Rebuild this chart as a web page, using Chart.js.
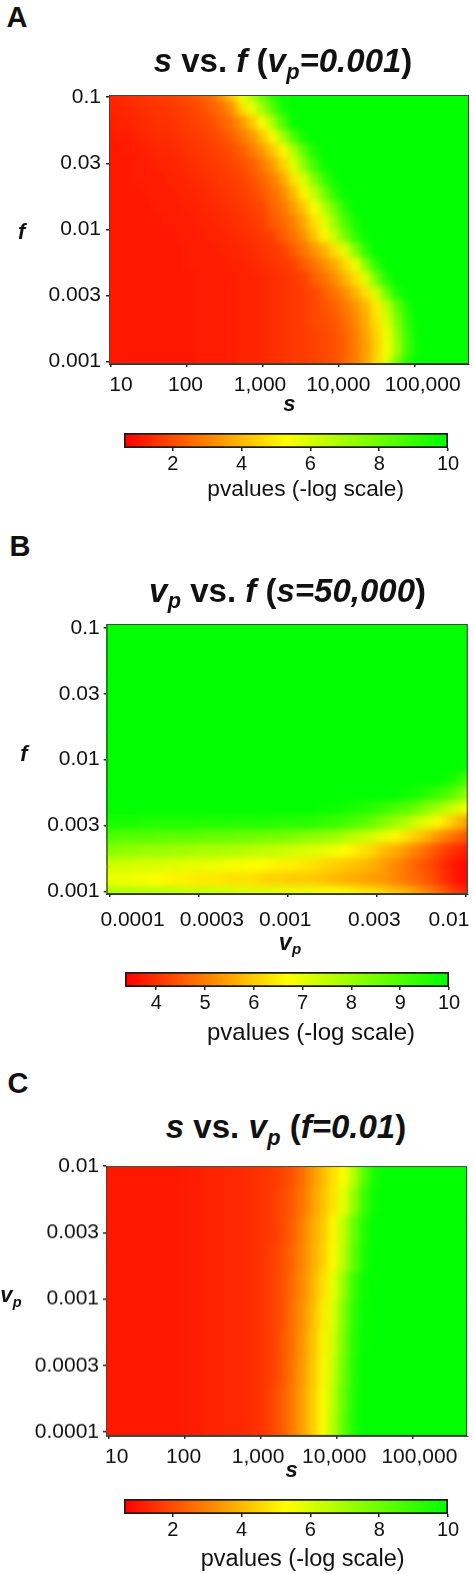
<!DOCTYPE html>
<html><head><meta charset="utf-8">
<style>
html,body{margin:0;padding:0;background:#fff;width:473px;height:1574px;overflow:hidden}
body{position:relative;font-family:"Liberation Sans",Arial,sans-serif;color:#111}
canvas{position:absolute;left:0}
.t{position:absolute;white-space:nowrap;transform:translateX(-50%)}
.t sub{font-size:.66em;position:relative;top:.3em;vertical-align:baseline;line-height:0;font-style:italic;margin-left:.02em}
</style>
<script src="https://cdn.jsdelivr.net/npm/chart.js@4"></script>
</head><body>
<script>
// ---------- tick values and labels ----------
const sTicks=[1,2,3,4,5];
const sLabels=['10','100','1,000','10,000','100,000'];
const fTicks=[-1,-1.5,-2,-2.5,-3];
const fLabels=['0.1','0.03','0.01','0.003','0.001'];
const vpTicks=[-4,-3.5,-3,-2.5,-2];
const vpLabels=['0.0001','0.0003','0.001','0.003','0.01'];
const vpLabelsDown=['0.01','0.003','0.001','0.0003','0.0001'];
const vpTicksDown=[-2,-2.5,-3,-3.5,-4];
const sLabelAtA=[1.14,1.99,2.97,4,5.11];
const vpLabelAtB=[-3.87,-3.425,-3.013,-2.513,-2.094];
const sLabelAtC=[1.11,1.99,2.97,3.97,5.09];
const barTicksAC=[2,4,6,8,10];
const barTicksB=[4,5,6,7,8,9,10];
const CAP=10, COLS=36;

// ---------- panel A: -log p, rows top to bottom, columns left to right; cells past a row's end sit at CAP ----------
const valuesA=[
[1.2,1.3,1.4,1.5,1.6,1.7,1.7,1.9,2,2.2,2.6,3.2,4.2,5.5,6.8,8,9.2,9.9],
[1.2,1.2,1.3,1.4,1.5,1.5,1.6,1.7,1.8,2,2.3,2.6,3.2,4.6,5.6,7,8.4,9.6],
[1.1,1.2,1.2,1.3,1.4,1.5,1.5,1.6,1.7,1.8,2,2.3,2.7,3.3,4.2,5.2,6.8,8.6,9.8],
[1,1.1,1.1,1.2,1.3,1.4,1.4,1.5,1.6,1.7,1.8,2,2.3,2.8,3.3,4.2,5.2,6.9,8.5,9.7],
[1,1,1.1,1.1,1.2,1.3,1.3,1.4,1.5,1.6,1.7,1.8,2,2.3,2.8,3.4,4.2,5.1,6.6,8.3,9.5],
[1,1,1,1.1,1.1,1.2,1.2,1.3,1.4,1.5,1.6,1.7,1.8,2,2.3,2.8,3.5,4.4,5.8,7.4,8.8,9.8],
[1,1,1,1.1,1.1,1.1,1.2,1.2,1.3,1.4,1.5,1.6,1.7,1.8,2.1,2.4,2.9,3.6,4.8,6,7.5,8.9,9.8],
[1,1,1,1,1.1,1.1,1.1,1.2,1.2,1.3,1.4,1.5,1.6,1.7,1.9,2.2,2.6,3.1,4,5.1,6.4,7.8,9.2,9.9],
[1,1,1,1,1,1.1,1.1,1.1,1.2,1.2,1.3,1.4,1.5,1.6,1.7,1.9,2.4,2.8,3.4,4.3,5.3,6.6,8,9.3],
[1,1,1,1,1,1,1.1,1.1,1.1,1.2,1.2,1.3,1.4,1.5,1.6,1.8,2.2,2.5,3,3.7,4.7,5.8,7.2,8.6,9.6],
[1,1,1,1,1,1,1,1.1,1.1,1.1,1.2,1.2,1.3,1.4,1.5,1.6,1.8,2.3,2.7,3.3,4.2,5.1,6.4,7.8,9.1,9.9],
[1,1,1,1,1,1,1,1,1.1,1.1,1.1,1.2,1.2,1.3,1.4,1.5,1.6,1.8,2.3,2.7,3.3,3.9,4.7,5.8,7.6,9.2],
[1,1,1,1,1,1,1,1,1.1,1.1,1.1,1.1,1.2,1.2,1.3,1.4,1.5,1.6,1.8,2.3,2.7,3.2,3.8,4.6,5.6,7.6,9.2],
[1,1,1,1,1,1,1,1,1,1.1,1.1,1.1,1.1,1.2,1.2,1.3,1.4,1.5,1.6,1.8,2.3,2.7,3.2,3.9,4.7,5.9,7.9,9.4],
[1,1,1,1,1,1,1,1,1,1.1,1.1,1.1,1.1,1.2,1.2,1.3,1.4,1.5,1.6,1.7,1.9,2.3,2.7,3.2,3.9,4.7,6.1,8,9.5],
[1,1,1,1,1,1,1,1,1,1.1,1.1,1.1,1.1,1.2,1.2,1.3,1.4,1.5,1.6,1.7,1.9,2.1,2.4,2.8,3.3,4,4.9,6.4,8.2,9.5],
[1,1,1,1,1,1,1,1,1,1.1,1.1,1.1,1.1,1.2,1.2,1.3,1.4,1.5,1.6,1.7,1.9,2,2.2,2.6,3.1,3.8,4.7,6,7.6,9.2],
[1,1,1,1,1,1,1,1,1,1.1,1.1,1.1,1.1,1.2,1.2,1.3,1.4,1.5,1.6,1.7,1.8,1.9,2.1,2.4,2.9,3.6,4.5,5.6,7.2,8.9,9.9],
[1,1,1,1,1,1,1,1,1,1.1,1.1,1.1,1.1,1.2,1.2,1.3,1.4,1.5,1.6,1.7,1.8,1.9,2.1,2.4,2.9,3.5,4.4,5.5,7,8.8,9.8],
[1,1,1,1,1,1,1,1,1,1.1,1.1,1.1,1.1,1.2,1.2,1.3,1.4,1.5,1.6,1.7,1.8,1.9,2.1,2.4,2.9,3.6,4.6,5.9,7.8,9.4]
];

// ---------- panel B ----------
const valuesB=[
[],[],[],[],[],[],[],[],[],[],
[10,10,10,10,10,10,10,10,10,10,10,10,10,10,10,10,10,10,10,10,10,10,10,10,10,10,10,10,10,10,10,10,10,10,10,9.9],
[10,10,10,10,10,10,10,10,10,10,10,10,10,10,10,10,10,10,10,10,10,10,10,10,10,10,10,10,10,10,10,10,10,9.8,9.5,9],
[10,10,10,10,10,10,10,10,10,10,10,10,10,10,10,10,10,10,10,10,10,10,10,10,10,10,10,10,10,9.8,9.7,9.5,9.3,9,8.6,8],
[10,10,10,10,10,10,10,10,10,10,10,10,10,10,10,10,10,10,10,10,10,9.9,9.9,9.8,9.7,9.6,9.5,9.3,9.1,8.9,8.6,8.2,7.9,7.5,7.1,6.7],
[9.7,9.7,9.7,9.7,9.6,9.6,9.6,9.6,9.6,9.6,9.6,9.6,9.6,9.6,9.6,9.6,9.6,9.5,9.5,9.5,9.5,9.4,9.3,9.2,9,8.9,8.6,8.3,8,7.7,7.3,7,6.6,6.2,5.8,5.4],
[9,9,8.9,8.9,8.9,8.8,8.8,8.8,8.8,8.8,8.7,8.7,8.7,8.6,8.6,8.6,8.5,8.5,8.4,8.3,8.2,8.1,8,7.8,7.6,7.4,7.2,6.9,6.6,6.3,6,5.7,5.3,5,4.7,4.4],
[8.2,8.2,8.1,8.1,8,8,8,7.9,7.9,7.8,7.8,7.8,7.7,7.7,7.6,7.5,7.5,7.4,7.3,7.2,7.1,7,6.9,6.7,6.5,6.3,6.1,5.8,5.6,5.3,5,4.7,4.4,4.1,3.9,3.7],
[7.4,7.3,7.3,7.2,7.2,7.2,7.1,7.1,7,7,6.9,6.9,6.8,6.8,6.7,6.7,6.6,6.5,6.5,6.4,6.3,6.2,6.1,6,5.9,5.8,5.6,5.4,5.1,4.9,4.6,4.4,4.1,3.8,3.6,3.4],
[7,6.9,6.9,6.8,6.8,6.7,6.6,6.5,6.5,6.4,6.4,6.4,6.3,6.3,6.3,6.2,6.1,6.1,6,6,6,5.9,5.8,5.7,5.6,5.5,5.4,5.3,5.1,4.9,4.7,4.5,4.2,3.9,3.6,3.4],
[7.8,7.8,7.7,7.7,7.7,7.6,7.6,7.5,7.5,7.4,7.4,7.3,7.3,7.2,7.2,7.1,7.1,7,7,6.9,6.9,6.8,6.7,6.6,6.5,6.4,6.3,6.1,5.9,5.7,5.4,5.1,4.8,4.4,4.1,3.8]
];

// ---------- panel C ----------
const valuesC=[
[1,1,1,1,1,1,1,1,1.1,1.1,1.2,1.2,1.3,1.3,1.4,1.5,1.6,1.8,2.1,2.6,3.3,4,4.7,5.3,6.6,8.4,9.6],
[1,1,1,1,1,1,1,1,1.1,1.1,1.2,1.2,1.3,1.3,1.4,1.5,1.6,1.9,2.2,2.7,3.4,4.1,4.8,5.7,7.2,8.9,9.8],
[1,1,1,1,1,1,1,1,1.1,1.1,1.2,1.2,1.3,1.3,1.4,1.5,1.6,1.9,2.3,2.9,3.6,4.3,5.1,6.4,8,9.4],
[1,1,1,1,1,1,1,1,1.1,1.1,1.2,1.2,1.3,1.3,1.4,1.5,1.7,2,2.4,3,3.7,4.4,5.2,6.6,8.2,9.5],
[1,1,1,1,1,1,1,1,1.1,1.1,1.2,1.2,1.3,1.3,1.4,1.5,1.7,2,2.5,3.1,3.8,4.7,5.7,7.2,8.9,9.8],
[1,1,1,1,1,1,1,1,1.1,1.1,1.2,1.2,1.3,1.3,1.4,1.5,1.7,2,2.6,3.2,4,4.9,5.9,7.5,9.1,9.9],
[1,1,1,1,1,1,1,1,1.1,1.1,1.2,1.2,1.3,1.3,1.4,1.5,1.7,2.1,2.6,3.3,4.1,5,6.1,7.7,9.2,9.9],
[1,1,1,1,1,1,1,1,1.1,1.1,1.2,1.2,1.3,1.3,1.4,1.5,1.7,2.1,2.7,3.4,4.2,5.1,6.3,7.9,9.3],
[1,1,1,1,1,1,1,1,1.1,1.1,1.2,1.2,1.3,1.3,1.4,1.5,1.8,2.2,2.8,3.5,4.3,5.2,6.5,8.1,9.4],
[1,1,1,1,1,1,1,1,1.1,1.1,1.2,1.2,1.3,1.3,1.4,1.5,1.8,2.2,2.8,3.5,4.3,5.2,6.6,8.2,9.5]
];

// ---------- colour scale: red, yellow, green ----------
function colorAt(v,lo){
  const t=Math.max(0,Math.min(1,(v-lo)/(CAP-lo)));
  const r=t<.5?255:Math.round(255*(1-t)*2), g=t<.5?Math.round(255*t*2):255;
  return `rgb(${r},${g},0)`;
}
const sprites={};
function sprite(color,w,h){
  const k=color+w+'x'+h;
  if(!sprites[k]){const c=document.createElement('canvas');c.width=w;c.height=h;
    const g=c.getContext('2d');g.fillStyle=color;g.fillRect(0,0,w,h);sprites[k]=c;}
  return sprites[k];
}
const FONT={family:'"Liberation Sans",Arial,sans-serif',size:21};
const noEdgePad=s=>{s.paddingLeft=s.paddingRight=s.paddingTop=s.paddingBottom=0};

const smooth={id:'smooth',afterDatasetsDraw(chart){
  const a=chart.chartArea,w=Math.round(a.right-a.left),h=Math.round(a.bottom-a.top),ctx=chart.ctx;
  const tmp=document.createElement('canvas');tmp.width=w;tmp.height=h;
  tmp.getContext('2d').drawImage(chart.canvas,a.left,a.top,w,h,0,0,w,h);
  ctx.save();ctx.beginPath();ctx.rect(a.left,a.top,w,h);ctx.clip();
  ctx.filter='blur(3.5px)';ctx.drawImage(tmp,a.left-7,a.top-7,w+14,h+14);ctx.restore();
  ctx.save();ctx.strokeStyle='#3c4a3c';ctx.lineWidth=1;
  ctx.strokeRect(a.left+.5,a.top+.5,w-1,h-1);ctx.restore();
}};

function newCanvas(top,h){
  const c=document.createElement('canvas');c.width=473;c.height=h;c.style.top=top+'px';
  c.style.width='473px';c.style.height=h+'px';document.body.appendChild(c);return c;
}

function heat(p){
  const pad=12,belowAxis=62;
  const c=newCanvas(p.top-pad,p.bottom-p.top+pad+belowAxis);
  const pts=[];
  const rows=p.values.length;
  p.values.forEach((row,r)=>{
    for(let i=0;i<COLS;i++){
      pts.push({x:p.xMin+(i+.5)/COLS*(p.xMax-p.xMin),
                y:p.yMax-(r+.5)/rows*(p.yMax-p.yMin),
                v:i<row.length?row[i]:CAP});
    }
  });
  const cw=Math.ceil((p.right-p.left)/COLS)+1, ch=Math.ceil((p.bottom-p.top)/rows)+1;
  return new Chart(c,{type:'scatter',
    data:{datasets:[{data:pts,pointRadius:1,pointBorderWidth:0,
      pointStyle:ctx=>ctx.raw?sprite(colorAt(ctx.raw.v,p.lo),cw,ch):'rect'}]},
    plugins:[smooth],
    options:{responsive:false,animation:false,devicePixelRatio:1,
      layout:{padding:{top:pad,right:473-p.right,left:0,bottom:0}},
      plugins:{legend:{display:false},tooltip:{enabled:false}},
      scales:{
        x:{type:'linear',position:'bottom',min:p.xMin,max:p.xMax,
          afterBuildTicks:s=>{s.ticks=p.xTicks.map(v=>({value:v}))},
          afterFit:s=>{s.height=3;noEdgePad(s)},
          ticks:{callback:()=>'',autoSkip:false,maxRotation:0,padding:0,font:{size:1}},
          grid:{drawOnChartArea:false,tickLength:3,color:'#222',lineWidth:1.5},
          border:{color:'#333'}},
        xl:{type:'linear',position:'bottom',min:p.xMin,max:p.xMax,
          afterBuildTicks:s=>{s.ticks=p.xLabelAt.map(v=>({value:v}))},
          afterFit:s=>{s.height=belowAxis-3;noEdgePad(s)},
          ticks:{callback:(v,i)=>p.xLabels[i],autoSkip:false,maxRotation:0,padding:p.xPad,font:FONT,color:'#111'},
          grid:{display:false,drawTicks:false},border:{display:false}},
        y:{type:'linear',position:'left',min:p.yMin,max:p.yMax,
          afterBuildTicks:s=>{s.ticks=p.yTicks.map(v=>({value:v}))},
          afterFit:s=>{s.width=p.left;noEdgePad(s)},
          ticks:{callback:(v,i)=>p.yLabels[i],autoSkip:false,padding:p.yPad,font:FONT,color:'#111'},
          grid:{drawOnChartArea:false,tickLength:3,color:'#222',lineWidth:1.5},
          border:{color:'#333'}}
      }}});
}

function colorbar(p){
  const c=newCanvas(p.top-2,p.bottom-p.top+2+34);
  return new Chart(c,{type:'bar',
    data:{labels:[''],datasets:[{data:[[p.lo,CAP]],barPercentage:1,categoryPercentage:1,
      borderWidth:2,borderColor:'#1c1c1c',borderSkipped:false,
      backgroundColor:ctx=>{
        const a=ctx.chart.chartArea;if(!a)return '#ff0';
        const g=ctx.chart.ctx.createLinearGradient(a.left,0,a.right,0);
        g.addColorStop(0,'#ff0000');g.addColorStop(.5,'#ffff00');g.addColorStop(1,'#00ff00');return g;
      }}]},
    options:{indexAxis:'y',responsive:false,animation:false,devicePixelRatio:1,
      layout:{padding:{top:2,left:p.left,right:473-p.right,bottom:0}},
      plugins:{legend:{display:false},tooltip:{enabled:false}},
      scales:{
        x:{type:'linear',position:'bottom',min:p.lo,max:CAP,
          afterBuildTicks:s=>{s.ticks=p.ticks.map(v=>({value:v}))},
          afterFit:s=>{s.height=34;noEdgePad(s)},
          ticks:{autoSkip:false,maxRotation:0,padding:1,font:{family:FONT.family,size:20},color:'#111'},
          grid:{drawOnChartArea:false,tickLength:3,color:'#222',lineWidth:1.5},
          border:{display:false}},
        y:{display:false}
      }}});
}

function txt(html,cx,base,size,extra){
  const d=document.createElement('div');d.className='t';d.innerHTML=html;
  d.style.left=cx+'px';d.style.top=(base-.8465*size)+'px';
  d.style.fontSize=size+'px';d.style.lineHeight=size+'px';
  if(extra)d.style.cssText+=extra;document.body.appendChild(d);
}

const B='font-weight:bold;';
const BI='font-weight:bold;font-style:italic;';

heat({top:95,bottom:364.3,left:109,right:469.3,values:valuesA,lo:.58,
  xMin:.983,xMax:5.72,xTicks:sTicks,xLabels:sLabels,xLabelAt:sLabelAtA,
  yMin:-3.02,yMax:-.983,yTicks:fTicks,yLabels:fLabels,xPad:6,yPad:5});
colorbar({top:433,bottom:448,left:124,right:448,lo:.58,ticks:barTicksAC});

heat({top:624.3,bottom:894.3,left:106.7,right:467.7,values:valuesB,lo:3.36,
  xMin:-4.015,xMax:-1.989,xTicks:vpTicks,xLabels:vpLabels,xLabelAt:vpLabelAtB,
  yMin:-3.02,yMax:-.97,yTicks:fTicks,yLabels:fLabels,xPad:11,yPad:4});
colorbar({top:972,bottom:987,left:125,right:449,lo:3.36,ticks:barTicksB});

heat({top:1166,bottom:1435.7,left:106,right:467.3,values:valuesC,lo:.58,
  xMin:.97,xMax:5.72,xTicks:sTicks,xLabels:sLabels,xLabelAt:sLabelAtC,
  yMin:-4.03,yMax:-2,yTicks:vpTicksDown,yLabels:vpLabelsDown,xPad:6,yPad:4});
colorbar({top:1499,bottom:1514,left:124,right:448,lo:.58,ticks:barTicksAC});

txt('A',17,28,29,B);txt('B',20,556.7,29,B);txt('C',18,1094,29,B);
txt('<i>s</i> vs. <i>f</i> (<i>v<sub>p</sub>=0.001</i>)',283,72,33,B);
txt('<i>v<sub>p</sub></i> vs. <i>f</i> (<i>s=50,000</i>)',287.5,601.7,33,B);
txt('<i>s</i> vs. <i>v<sub>p</sub></i> (<i>f=0.01</i>)',286,1138,33,B);
txt('f',21.7,240,22,BI);txt('s',289.3,412,22,BI);
txt('f',24,762,22,BI);txt('v<sub>p</sub>',290,950,23,BI);
txt('v<sub>p</sub>',11,1303,22,BI);txt('s',291.7,1478,22,BI);
txt('pvalues (-log scale)',305.7,496.7,22.7);
txt('pvalues (-log scale)',311,1040,24);
txt('pvalues (-log scale)',302.7,1566.7,23.5);
</script>
</body></html>
